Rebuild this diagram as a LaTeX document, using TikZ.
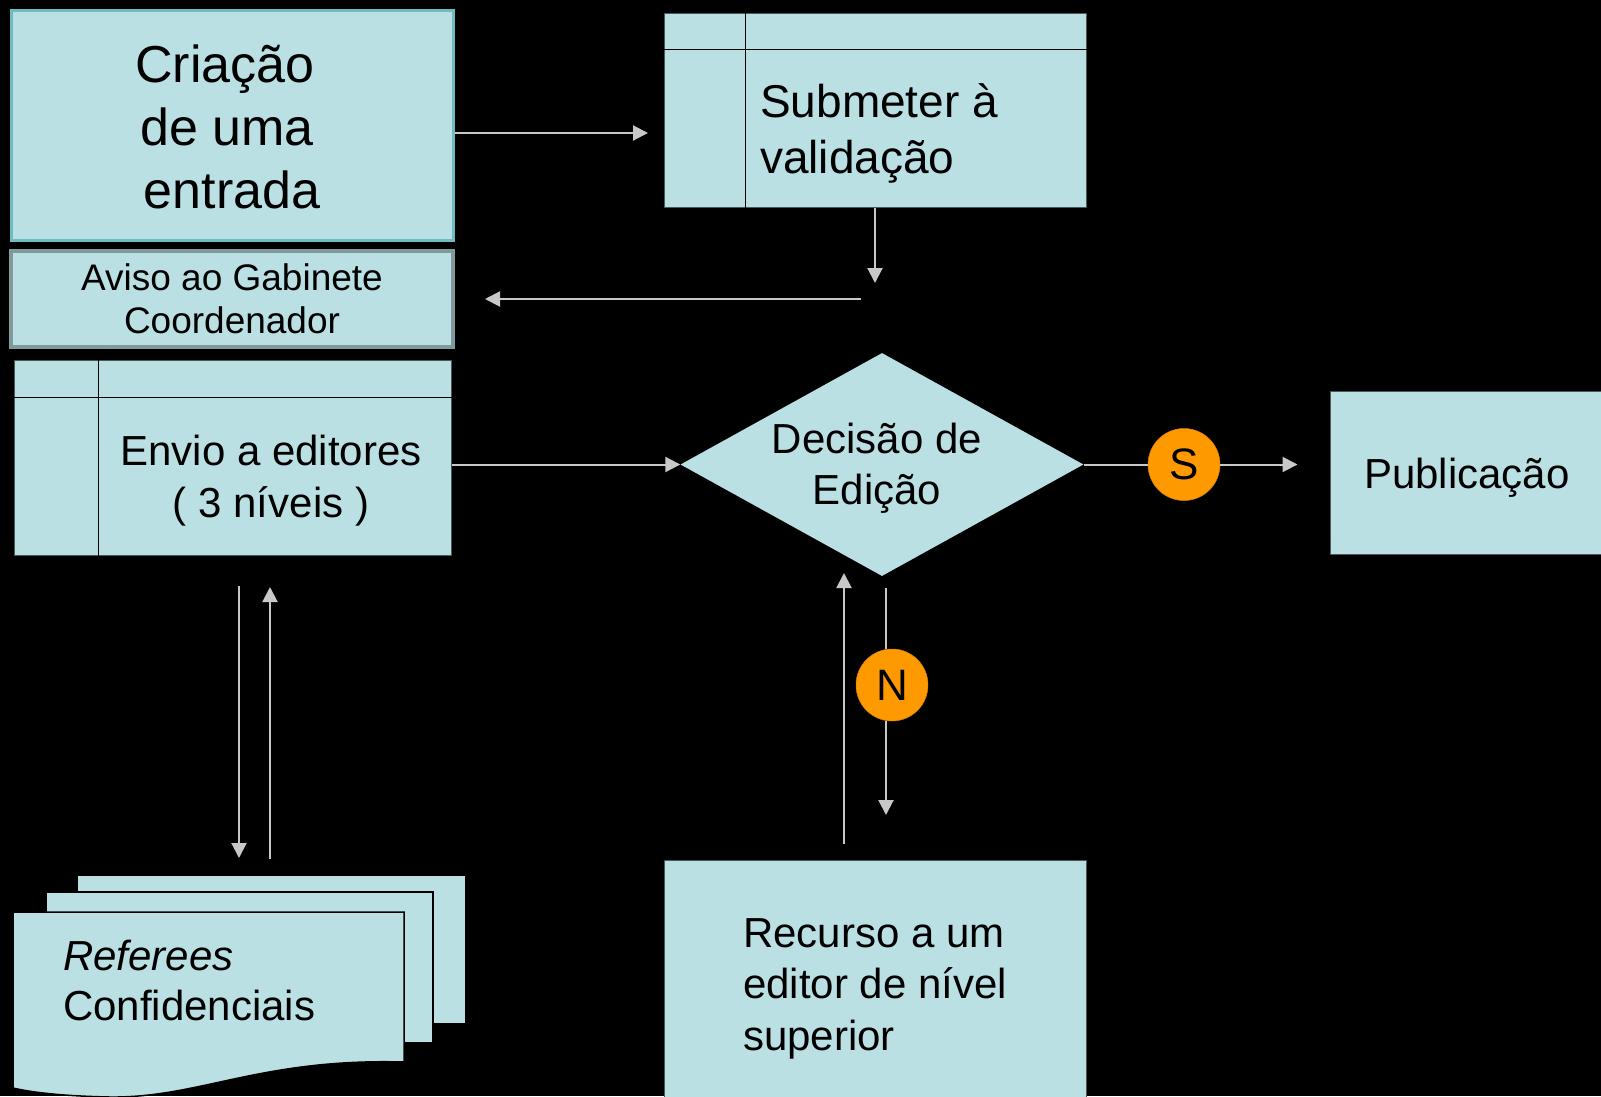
\documentclass[tikz,border=0pt]{standalone}
\usepackage{fontspec}
\setmainfont{Liberation Sans}
\usetikzlibrary{arrows.meta,shapes.geometric}
\definecolor{boxfill}{RGB}{186,224,228}
\definecolor{tealborder}{RGB}{108,188,194}
\definecolor{grayborder}{RGB}{128,154,156}
\definecolor{arrowgray}{RGB}{200,200,200}
\definecolor{orangec}{RGB}{255,153,0}
\definecolor{outl}{RGB}{70,90,92}
\begin{document}
\begin{tikzpicture}[x=1pt,y=-1pt,
 box/.style={draw=outl, line width=1pt, fill=boxfill, rectangle, inner sep=0pt},
 sepline/.style={draw=black, line width=1.5pt},
 conn/.style={draw=arrowgray, line width=2pt},
 arr/.style={conn, -{Triangle[length=15pt,width=15pt]}},
 yn/.style={circle, fill=orangec, draw=orangec!85!black, line width=0.5pt, minimum size=72pt, inner sep=0pt, font=\fontsize{44}{44}\selectfont},
 lbl/.style={inner sep=0pt, font=\fontsize{42}{51}\selectfont},
 sheet/.style={fill=boxfill, draw=black, line width=1.5pt},
]
\fill[black] (0,0) rectangle (1601,1096);
\useasboundingbox (0,0) rectangle (1601,1096);

% Criacao
\node[box, draw=tealborder, line width=3pt, minimum width=442pt, minimum height=230pt] (crea) at (232,125) {};
\node[lbl, align=center, anchor=base, font=\fontsize{52}{63}\selectfont] (creat) at (232,208)
  {Criação\rule{14pt}{0pt}\\de uma\rule{10pt}{0pt}\\entrada};
% Aviso
\node[box, draw=grayborder, line width=4pt, minimum width=442pt, minimum height=96pt] (aviso) at (232,299) {};
\node[lbl, align=center, anchor=base, font=\fontsize{37}{43}\selectfont] (avisot) at (232,333) {Aviso ao Gabinete\\Coordenador};

% Submeter
\node[box, minimum width=422pt, minimum height=194pt] (sub) at (875,110) {};
\draw[sepline] ([yshift=-37pt]sub.north west) -- ([yshift=-37pt]sub.north east);
\draw[sepline] ([xshift=82pt]sub.north west) -- ([xshift=82pt]sub.south west);
\node[lbl, font=\fontsize{46}{56}\selectfont, align=left, anchor=base west] (subt) at (760,173) {Submeter à\\validação};

% Envio
\node[box, minimum width=437pt, minimum height=195pt] (envio) at (232.5,457.5) {};
\draw[sepline] ([yshift=-38pt]envio.north west) -- ([yshift=-38pt]envio.north east);
\draw[sepline] ([xshift=85pt]envio.north west) -- ([xshift=85pt]envio.south west);
\node[lbl, align=center, anchor=base, font=\fontsize{42}{52}\selectfont] (envt) at (271,517) {Envio a editores\\( 3 níveis )};

% Decisao
\node[diamond, fill=boxfill, draw=none, minimum width=403pt, minimum height=223pt, inner sep=0pt] (dec) at (882,464.5) {};
\node[lbl, align=center, anchor=base] (dect) at (877,504) {Decisão de\\Edição};

% S / Publicacao
\node[yn] (s) at (1184,464.5) {S};
\node[box, minimum width=300pt, minimum height=163pt] (pub) at (1480,472.5) {};
\node[lbl, anchor=base west] (pubt) at (1364,488) {Publicação};

% N / Recurso
\node[yn] (n) at (892,685) {N};
\node[box, minimum width=422pt, minimum height=260pt] (rec) at (875,990) {};
\node[lbl, align=left, anchor=base west, font=\fontsize{42}{51.5}\selectfont] (rect) at (743,1050) {Recurso a um\\editor de nível\\superior};

% Referees (multi-document)
\path[sheet] (77,875) rectangle (466,1024);
\path[sheet] (46,892) rectangle (433,1043);
\path[sheet] (13,912) -- (404,912) -- (404,1062)
  .. controls (260,1058) and (200,1098) .. (110,1097)
  .. controls (60,1096) and (30,1092) .. (13,1088) -- cycle;
\node[lbl, align=left, anchor=base west, font=\fontsize{42}{50}\selectfont] (ref) at (63,1020) {\textit{Referees}\\Confidenciais};

% coordinates for free ends
\coordinate (c1) at (648,133);
\coordinate (c2) at (875,283);
\coordinate (c3) at (861,299);
\coordinate (e1) at (239,586);
\coordinate (e2) at (239,858);
\coordinate (e3) at (270,859);
\coordinate (e4) at (270,587);
\coordinate (d1) at (886,588);
\coordinate (d2) at (886,815);
\coordinate (u1) at (844,844);
\coordinate (u2) at (844,573);

% connectors
\draw[arr] (crea.east |- c1) -- (c1);
\draw[arr] (sub.south) -- (c2);
\draw[arr] (c3) -- ([xshift=30pt]aviso.east);
\draw[arr] (envio.east |- dec.west) -- (dec.west);
\draw[arr] (e1) -- (e2);
\draw[arr] (e3) -- (e4);
\draw[conn] (dec.east) -- (s.west);
\draw[arr] (s.east) -- ([xshift=-32pt]pub.west |- s.east);
\draw[conn] (d1) -- (d1 |- n.north);
\draw[arr] (d1 |- n.south) -- (d2);
\draw[arr] (u1) -- (u2);
\end{tikzpicture}
\end{document}
